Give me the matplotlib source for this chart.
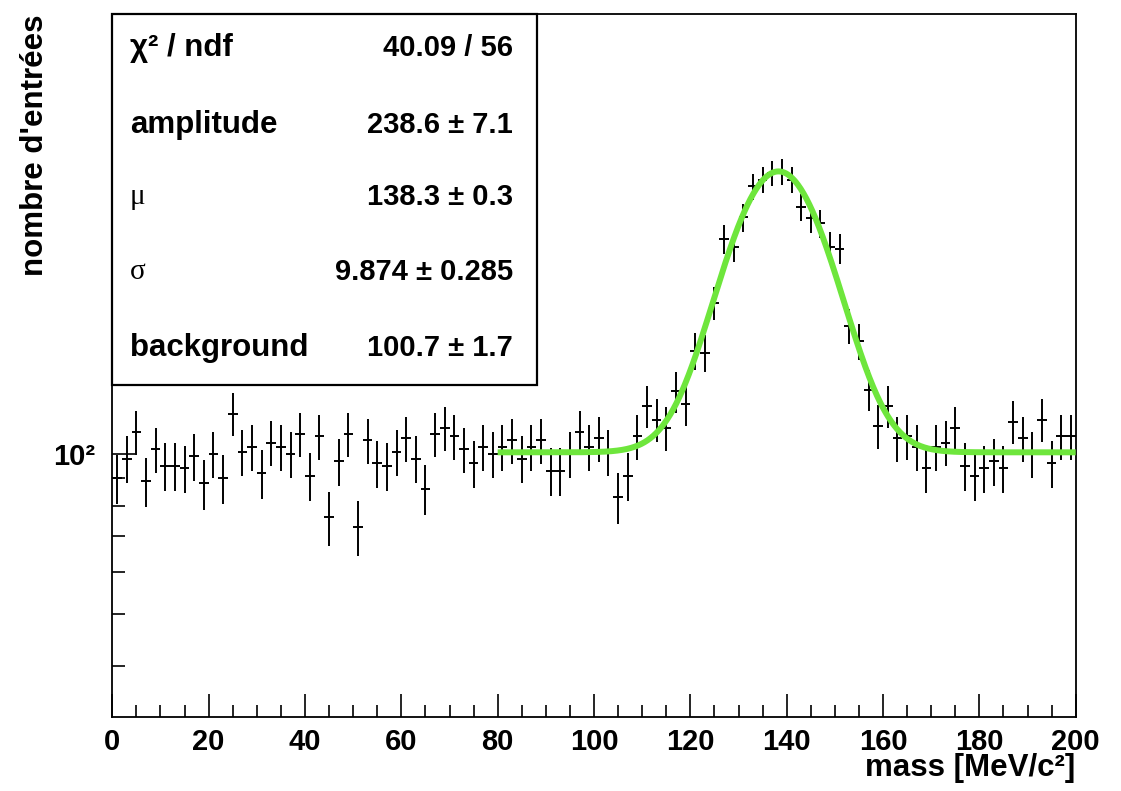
import numpy as np
import matplotlib
matplotlib.use('Agg')
import matplotlib.pyplot as plt
from matplotlib.patches import Rectangle
from matplotlib.ticker import FixedLocator, NullFormatter, FixedFormatter

# ---- data ----
bin_width = 2.0
x_low, x_high = 0.0, 200.0
counts = [90, 98, 110, 89, 102, 95, 95, 94, 99, 88,
          100, 90, 119, 101, 103, 92, 105, 103, 100, 109,
          91, 108, 76, 97, 109, 73, 106, 96, 95, 101,
          107, 98, 86, 109, 112, 108, 102, 96, 103, 100,
          103, 106, 98, 103, 106, 93, 93, 100, 110, 103,
          107, 101, 83, 91, 108, 123, 116, 112, 131, 124,
          156, 155, 192, 253, 245, 278, 318, 327, 337, 339,
          327, 291, 277, 271, 245, 243, 174, 163, 132, 113,
          123, 107, 108, 103, 94, 103, 105, 112, 95, 91,
          94, 97, 94, 115, 107, 100, 116, 96, 108, 108]

# fit parameters (gaussian + constant), fit range
amplitude = 238.6
mu = 138.3
sigma = 9.874
background = 100.7
fit_range = (80.0, 200.0)

stat_labels = ['χ² / ndf', 'amplitude', 'μ', 'σ', 'background']
stat_values = ['40.09 / 56', '238.6 ± 7.1', '138.3 ± 0.3', '9.874 ± 0.285', '100.7 ± 1.7']

xtick_major = [0, 20, 40, 60, 80, 100, 120, 140, 160, 180, 200]
ytick_major = [100]
ytick_major_labels = ['10²']
ytick_minor = [40, 50, 60, 70, 80, 90, 200, 300, 400, 500, 600]

FONT = 'Liberation Sans'

# ---- figure ----
fig = plt.figure(figsize=(11.21, 7.91), dpi=100)
ax = fig.add_axes([0.1002, 0.0939, 0.8594, 0.8890])

counts_arr = np.array(counts, dtype=float)
centers = x_low + bin_width * (np.arange(len(counts_arr)) + 0.5)
errs = np.sqrt(counts_arr)
ax.errorbar(centers, counts_arr, xerr=bin_width / 2, yerr=errs, fmt='none',
            ecolor='black', elinewidth=1.4, capsize=0, zorder=2)

xf = np.linspace(fit_range[0], fit_range[1], 600)
yf = amplitude * np.exp(-0.5 * ((xf - mu) / sigma) ** 2) + background
ax.plot(xf, yf, color='#6ee63c', lw=4.3, zorder=3, solid_capstyle='butt')

ax.set_yscale('log')
ax.set_xlim(x_low, x_high)
ax.set_ylim(32.1, 671.5)

ax.xaxis.set_major_locator(FixedLocator(xtick_major))
ax.xaxis.set_minor_locator(FixedLocator(np.arange(0, 201, 5)))
ax.yaxis.set_major_locator(FixedLocator(ytick_major))
ax.yaxis.set_major_formatter(FixedFormatter(ytick_major_labels))
ax.yaxis.set_minor_locator(FixedLocator(ytick_minor))
ax.yaxis.set_minor_formatter(NullFormatter())

ax.tick_params(axis='both', which='both', direction='in', top=False, right=False, width=1.2)
ax.tick_params(axis='x', which='major', length=16.3, pad=8)
ax.tick_params(axis='x', which='minor', length=8.4)
ax.tick_params(axis='y', which='major', length=16.3, pad=12)
ax.tick_params(axis='y', which='minor', length=9.5)
for lab in ax.get_xticklabels() + ax.get_yticklabels():
    lab.set_fontfamily(FONT)
    lab.set_fontweight('bold')
    lab.set_fontsize(21)
for sp in ax.spines.values():
    sp.set_linewidth(1.3)

fig.text(35 / 1121, 1 - 15 / 791, "nombre d'entrées", rotation=90, ha='center', va='top',
         fontsize=22.5, fontweight='bold', fontfamily=FONT)
fig.text(1075 / 1121, 1 - 768 / 791, 'mass [MeV/c²]', ha='right', va='center',
         fontsize=22.5, fontweight='bold', fontfamily=FONT)

# ---- stats box ----
box_right = 0.4408
box_bottom = 0.4717
ax.add_patch(Rectangle((0, box_bottom), box_right, 1 - box_bottom, transform=ax.transAxes,
                       facecolor='white', edgecolor='black', lw=1.6, zorder=5, clip_on=False))
row_y = [0.951, 0.841, 0.739, 0.632, 0.524]
for lbl, val, yy in zip(stat_labels, stat_values, row_y):
    if lbl in ('μ', 'σ'):
        ax.text(0.0184, yy, lbl, transform=ax.transAxes, ha='left', va='center',
                fontsize=21, fontfamily='Liberation Serif', zorder=6)
    else:
        ax.text(0.0184, yy, lbl, transform=ax.transAxes, ha='left', va='center',
                fontsize=22.5, fontweight='bold', fontfamily=FONT, zorder=6)
    ax.text(0.416, yy, val, transform=ax.transAxes, ha='right', va='center',
            fontsize=21, fontweight='bold', fontfamily=FONT, zorder=6)

fig.savefig('out.png', dpi=100)
